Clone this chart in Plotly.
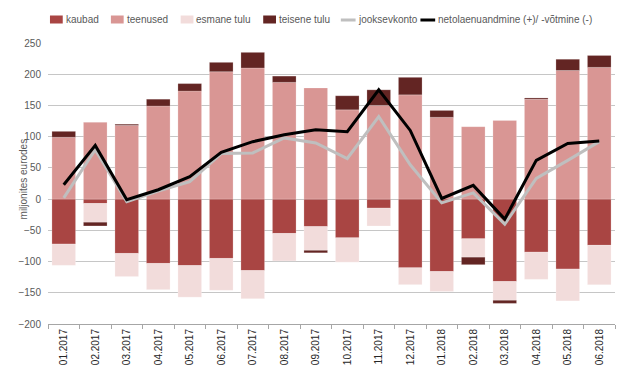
import plotly.graph_objects as go

months = ["01.2017", "02.2017", "03.2017", "04.2017", "05.2017", "06.2017",
          "07.2017", "08.2017", "09.2017", "10.2017", "11.2017", "12.2017",
          "01.2018", "02.2018", "03.2018", "04.2018", "05.2018", "06.2018"]
kaubad = [-72, -7, -87, -103, -106.5, -95, -114.5, -55, -44, -62, -14.5, -110,
          -116, -63.5, -132, -85, -112, -74]
teenused = [99, 123, 118, 149, 173, 204, 210, 187, 178, 143, 150, 167,
            131, 116, 126, 160, 206, 211]
esmane_tulu = [-34, -30, -37, -42, -50.5, -51, -45, -44, -38, -39, -28.5, -27,
               -32, -29.5, -30, -43.5, -51, -63]
teisene_tulu = [9.5, -6, 2, 11, 12, 15, 25, 10, -4, 22.5, 25, 28,
                11, -12, -5, 2, 18, 19]
jooksevkonto = [2, 79, -4, 13, 28, 73, 74, 98, 90, 65, 132, 55,
                -6, 10, -40, 33, 62, 92]
netolaenuandmine = [23, 86, -1, 15, 36, 75, 92, 103, 111, 108, 175, 110,
                    1, 22, -32, 62, 89, 93]
y_ticks = [-200, -150, -100, -50, 0, 50, 100, 150, 200, 250]

C_KAUBAD = "#A94543"
C_TEENUSED = "#D99694"
C_ESMANE = "#F2DCDB"
C_TEISENE = "#632523"
C_JOOKS = "#BFBFBF"
C_NETO = "#000000"
FONT = "Liberation Sans, Arial, sans-serif"

# The page body has an 8px default margin, so the figure is drawn 8px
# right/down of the window origin; compensate so the picture lines up.
OFF = 8
WIN_W, WIN_H = 625, 380
W, H = WIN_W - OFF, WIN_H - OFF
# plot-area edges in window pixels
P_LEFT, P_RIGHT, P_TOP, P_BOTTOM = 38, 615, 43, 324
ML, MR, MT, MB = P_LEFT - OFF, WIN_W - P_RIGHT, P_TOP - OFF, WIN_H - P_BOTTOM
PW, PH = P_RIGHT - P_LEFT, P_BOTTOM - P_TOP


def px(x):
    return (x - P_LEFT) / PW


def py(y):
    return (P_BOTTOM - y) / PH


fig = go.Figure()
edge = dict(color="rgba(255,255,255,0.35)", width=0.6)
for name, vals, col in [("kaubad", kaubad, C_KAUBAD),
                        ("teenused", teenused, C_TEENUSED),
                        ("esmane tulu", esmane_tulu, C_ESMANE),
                        ("teisene tulu", teisene_tulu, C_TEISENE)]:
    fig.add_trace(go.Bar(x=months, y=vals, name=name,
                         marker=dict(color=col, line=edge)))

fig.add_trace(go.Scatter(x=months, y=jooksevkonto, name="jooksevkonto",
                         mode="lines", line=dict(color=C_JOOKS, width=3)))
fig.add_trace(go.Scatter(x=months, y=netolaenuandmine,
                         name="netolaenuandmine (+)/ -võtmine (-)",
                         mode="lines", line=dict(color=C_NETO, width=3)))

# custom legend (swatches + labels) placed as in the reference
legend_items = [
    ("kaubad", C_KAUBAD, "box", 40, 54),
    ("teenused", C_TEENUSED, "box", 102, 116),
    ("esmane tulu", C_ESMANE, "box", 173, 187),
    ("teisene tulu", C_TEISENE, "box", 257, 271),
    ("jooksevkonto", C_JOOKS, "line", 336, 351),
    ("netolaenuandmine (+)/ -võtmine (-)", C_NETO, "line", 417, 433),
]
LY = 19.5
shapes = []
annotations = []
for label, col, kind, sx, tx in legend_items:
    if kind == "box":
        shapes.append(dict(type="rect", xref="paper", yref="paper",
                           x0=px(sx), x1=px(sx + 13), y0=py(LY + 4), y1=py(LY - 4),
                           fillcolor=col, line=dict(width=0)))
    else:
        shapes.append(dict(type="line", xref="paper", yref="paper",
                           x0=px(sx), x1=px(sx + 15), y0=py(LY + 0.5), y1=py(LY + 0.5),
                           line=dict(color=col, width=3)))
    annotations.append(dict(text=label, xref="paper", yref="paper",
                            x=px(tx), y=py(LY), xanchor="left", yanchor="middle",
                            showarrow=False,
                            font=dict(family=FONT, size=10, color="#595959")))

annotations.append(dict(text="miljonites eurodes", xref="paper", yref="paper",
                        x=px(13), y=py(179), xanchor="center", yanchor="middle",
                        textangle=-90, showarrow=False,
                        font=dict(family=FONT, size=10, color="#595959")))

fig.update_layout(
    width=W, height=H,
    margin=dict(l=ML, r=MR, t=MT, b=MB, pad=0),
    barmode="relative",
    bargap=0.25,
    showlegend=False,
    plot_bgcolor="white",
    paper_bgcolor="white",
    font=dict(family=FONT, size=10, color="#595959"),
    shapes=shapes,
    annotations=annotations,
)
fig.update_xaxes(
    type="category",
    tickangle=-90,
    tickfont=dict(family=FONT, size=10, color="#262626"),
    ticks="outside", tickson="boundaries", ticklen=4, tickcolor="#A6A6A6",
    showline=True, linecolor="#A6A6A6", linewidth=1,
    showgrid=False,
    range=[-0.5, len(months) - 0.5],
)
fig.update_yaxes(
    range=[-200, 250],
    tickvals=y_ticks,
    tickfont=dict(family=FONT, size=10, color="#595959"),
    showgrid=True, gridcolor="#C6C6C6", gridwidth=1,
    zeroline=True, zerolinecolor="#C6C6C6", zerolinewidth=1,
    showline=False,
    ticks="", ticklabelstandoff=6,
)

fig.write_html("out.html")
